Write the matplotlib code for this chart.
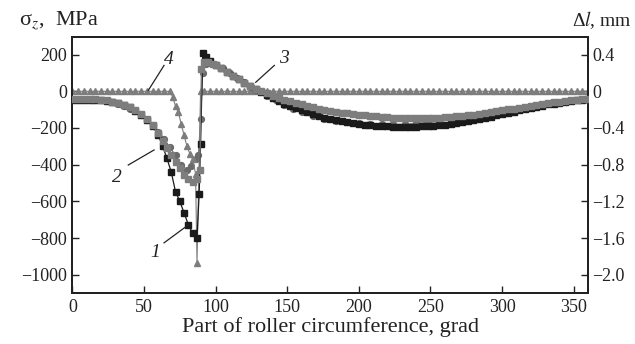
import matplotlib
matplotlib.use("Agg")
import matplotlib.pyplot as plt
from matplotlib.ticker import FixedLocator, FixedFormatter

plt.rcParams['font.family'] = ['Liberation Serif', 'DejaVu Serif']
plt.rcParams['mathtext.fontset'] = 'stix'

tail_ang = list(range(100, 361, 4))

# curve 1 - black squares, sigma_z (MPa)
ang_1 = [0, 4, 8, 12, 16, 20, 24, 28, 32, 36, 40, 44, 48, 52, 56, 60,
         63, 66, 69, 72, 75, 78, 81, 84, 87, 88.5, 89.5, 91, 93, 96] + tail_ang
sig_1 = [-45, -45, -45, -46, -47, -48, -52, -57, -64, -74, -88, -105, -128, -156, -190, -240,
         -300, -365, -440, -547, -600, -663, -728, -775, -800, -560, -290, 206, 185, 165,
         145, 125, 105, 85, 65, 45, 27, 10, -6, -22,
         -38, -53, -67, -80, -92, -104, -115, -125, -134, -143,
         -151, -158, -164, -170, -175, -179, -183, -186, -188, -190,
         -191, -192, -193, -193, -193, -192, -191, -190, -188, -185,
         -182, -178, -174, -169, -164, -158, -152, -146, -139, -132,
         -125, -118, -111, -104, -97, -90, -84, -78, -72, -67,
         -62, -57, -53, -49, -46, -43]

# curve 2 - grey squares, sigma_z (MPa)
ang_2 = [0, 4, 8, 12, 16, 20, 24, 28, 32, 36, 40, 44, 48, 52, 56, 60,
         63, 66, 69, 72, 75, 78, 81, 84, 87, 89, 90, 92, 95, 98] + tail_ang
sig_2 = [-40, -40, -41, -42, -44, -46, -50, -56, -64, -75, -88, -104, -125, -150, -185, -230,
         -270, -310, -345, -385, -420, -455, -480, -492, -480, -430, 120, 160, 158, 150,
         142, 125, 105, 85, 65, 47, 30, 14, 0, -12,
         -24, -35, -45, -55, -64, -72, -80, -87, -94, -100,
         -106, -111, -116, -120, -124, -128, -131, -134, -137, -139,
         -141, -143, -144, -145, -146, -146, -146, -146, -145, -144,
         -142, -140, -137, -134, -131, -127, -123, -119, -114, -109,
         -104, -99, -94, -89, -84, -79, -74, -69, -65, -61,
         -57, -53, -50, -47, -44, -42]

# curve 3 - grey circles, delta l (mm), right axis
ang_3 = [0, 4, 8, 12, 16, 20, 24, 28, 32, 36, 40, 44, 48, 52, 56, 60, 64, 68, 72,
         76, 80, 83, 86, 88, 89.5, 91, 93, 96, 100, 105, 110, 115, 120, 125, 130,
         136, 142, 148, 154, 160, 168, 176, 184, 192, 200, 208, 216, 224, 232, 240,
         248, 256, 264, 272, 280, 288, 296, 304, 312, 320, 328, 336, 344, 352, 360]
dl_3 = [-0.09, -0.09, -0.09, -0.09, -0.1, -0.1, -0.11, -0.12, -0.14, -0.16, -0.19,
        -0.22, -0.26, -0.31, -0.37, -0.44, -0.52, -0.61, -0.7, -0.8, -0.86, -0.82,
        -0.74, -0.7, -0.3, 0.2, 0.3, 0.31, 0.29, 0.25, 0.2, 0.15, 0.1, 0.05, 0.0,
        -0.05, -0.1, -0.15, -0.19, -0.23, -0.27, -0.3, -0.32, -0.34, -0.35, -0.36,
        -0.36, -0.36, -0.36, -0.35, -0.34, -0.33, -0.31, -0.29, -0.27, -0.25, -0.23,
        -0.21, -0.19, -0.17, -0.15, -0.13, -0.11, -0.1, -0.09]

# curve 4 - grey triangles, sigma_z (MPa)
ang_4 = list(range(0, 69, 4)) + [70, 72, 74, 76, 78, 80, 82, 84, 86, 87, 89.5] + list(range(92, 361, 4))
sig_4 = [0] * 18 + [-30, -80, -114, -180, -240, -300, -340, -370, -450, -935] + [0] * 69

x_ticks = [0, 50, 100, 150, 200, 250, 300, 350]
y_ticks = [200, 0, -200, -400, -600, -800, -1000]
r_ticks = [0.4, 0, -0.4, -0.8, -1.2, -1.6, -2.0]
r_labels = ['0.4', '0', '\u22120.4', '\u22120.8', '\u22121.2', '\u22121.6', '\u22122.0']

fig = plt.figure(figsize=(6.35, 3.44), dpi=100)
ax = fig.add_axes([0.114, 0.148, 0.812, 0.744])
ax2 = ax.twinx()

grey = '#7d7d7d'
ax.plot(ang_4, sig_4, color=grey, lw=0.8, marker='^', ms=4.4, mec=grey, mfc=grey, zorder=2)
ax.plot(ang_1, sig_1, color='#1a1a1a', lw=0.9, marker='s', ms=4.2, mec='#1a1a1a',
        mfc='#1a1a1a', zorder=3)
ax.plot(ang_2, sig_2, color=grey, lw=0.8, marker='s', ms=4.2, mec=grey, mfc=grey, zorder=4)
ax2.plot(ang_3, dl_3, color='#6a6a6a', lw=0.8, marker='o', ms=4.2, mec='#6a6a6a',
         mfc='#6a6a6a', zorder=3)

ax.set_xlim(0, 360)
ax.set_ylim(-1100, 295)
ax2.set_ylim(-2.2, 0.59)
ax.set_zorder(ax2.get_zorder() + 1)
ax.patch.set_visible(False)

ax.xaxis.set_major_locator(FixedLocator(x_ticks))
ax.yaxis.set_major_locator(FixedLocator(y_ticks))
ax2.yaxis.set_major_locator(FixedLocator(r_ticks))
ax2.yaxis.set_major_formatter(FixedFormatter(r_labels))
ax.set_yticklabels([str(v).replace('-', '\u2212') for v in y_ticks])

for a in (ax, ax2):
    a.tick_params(direction='in', length=5, width=1, labelsize=13, colors='#222222')
    for s in a.spines.values():
        s.set_linewidth(1.4)
        s.set_color('#222222')
ax.tick_params(top=False, right=False, pad=4)
ax2.tick_params(pad=3)

ax.set_xlabel('Part of roller circumference, grad', fontsize=16, labelpad=1, color='#222222')
fig.text(0.03, 0.925, '\u03c3$_z$,  MPa', fontsize=16, color='#222222')
fig.text(0.9, 0.925, '\u0394$l$, mm', fontsize=14, color='#222222')

# curve labels with leader lines
for lbl, tx, ty, x0, y0, x1, y1 in [
        ('1', 58, -880, 64, -826, 81, -728),
        ('2', 31, -470, 39, -402, 57, -320),
        ('3', 148, 180, 141, 141, 128, 49),
        ('4', 67, 175, 64, 141, 53, 5)]:
    ax.plot([x0, x1], [y0, y1], color='#222222', lw=0.9, zorder=5)
    ax.text(tx, ty, lbl, fontsize=14, style='italic', ha='center', va='center',
            color='#222222', zorder=5)

fig.savefig('out.png', dpi=100)
